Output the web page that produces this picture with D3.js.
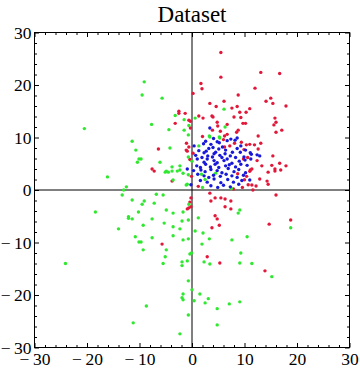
<!DOCTYPE html>
<html lang="en">
<head>
<meta charset="utf-8">
<title>Dataset</title>
<script src="https://d3js.org/d3.v7.min.js"></script>
<style>
  body { margin: 0; background: #fff; }
  text { font-family: "Liberation Serif", "Times New Roman", serif; fill: #000; }
</style>
</head>
<body>
<script>
// chart data: [x, y] pairs
const redPoints = [
  [5.5,26.2],[5.5,21.5],[1.7,20.3],[1.9,19.3],[0.2,18.4],[8.8,18.1],[3.4,16.5],[6.1,16.9],[4.6,15.9],[7.6,15.6],
  [8.6,15.9],[9.1,14.8],[10.3,14.8],[11.0,15.5],[8.0,13.9],[9.3,13.8],[9.7,12.7],[10.2,12.7],[3.8,14.1],[4.0,13.9],
  [1.3,14.1],[2.1,13.7],[4.8,12.9],[4.9,12.2],[6.7,12.5],[3.9,11.4],[5.4,11.2],[8.5,11.0],[8.8,11.4],[6.7,10.6],
  [6.2,10.3],[-2.5,15.0],[-2.5,14.6],[-1.3,14.6],[-0.6,13.3],[-0.3,13.1],[-3.2,12.7],[-0.3,11.8],
  [13.1,22.4],[16.7,22.2],[12.0,19.4],[15.0,17.5],[14.1,16.9],[15.4,16.5],[17.9,16.0],[15.8,13.7],[16.0,12.9],
  [15.6,12.4],[17.1,11.4],[16.0,11.0],[12.6,10.3],
  [13.1,8.9],[11.0,8.7],[15.4,6.5],[12.4,5.6],[16.7,5.1],[15.2,4.7],[17.9,4.6],[13.3,4.6],[15.8,4.0],[15.8,3.6],
  [16.9,3.8],[14.5,3.4],[11.4,4.0],[11.1,3.8],[12.9,2.1],[14.3,1.7],[14.5,1.1],[11.4,0.95],[12.2,0.76],[11.6,0.0],
  [16.0,-0.95],[18.8,-5.7],[14.7,-6.5],[13.9,-15.4],[2.9,-12.7],[5.3,-13.9],
  [-6.4,7.8],[-7.6,4.0],[-7.2,3.6],[-3.8,1.7],[-1.1,7.6],[-0.9,7.4],[-0.6,8.2],[-0.2,-1.5],[-0.4,-2.3],[-0.6,-3.4],
  [-0.2,-3.2],[-0.9,-3.6],[-5.7,-10.3],[3.4,-0.6],[3.6,-2.1],[4.4,-1.5],[5.5,-1.5],[6.3,-1.7],[7.4,-2.1],[6.3,-3.2],
  [7.4,-3.6],[4.4,-4.9],[4.8,-5.5],[3.8,-7.2],[5.2,-6.7],
  [-1.05,8.9],[8.1,8.9],[9.4,9.1],[10.35,8.6],[9.9,7.7],[11.9,8.6],[12.6,7.8],[6.2,8.2],[7.2,8.4],[11.0,3.55],
  [10.0,1.96],[10.7,1.0],[0.2,7.0],[-0.4,5.8],[-0.1,2.6],[1.2,0.7],
  [9.8,5.9],[10.6,6.2],[8.7,3.1],[9.6,0.5],[7.9,0.2],[10.4,2.6],[6.0,9.6],[2.0,10.2]
];

const greenPoints = [
  [-20.5,11.7],
  [-9.1,20.6],[-9.5,18.1],[-5.7,17.5],[6.1,15.4],[0.6,13.7],[6.3,12.0],[3.3,10.3],[5.2,10.1],[-3.2,14.2],
  [-1.5,13.4],[-7.7,12.5],[-4.4,11.5],[-1.5,11.4],[-0.7,10.5],
  [-11.4,9.3],[-10.7,7.6],[-10.1,5.9],[-10.4,5.3],[-16.1,2.5],[-12.5,0.6],[-13.0,0.0],[-13.3,-0.95],[-11.4,-1.9],
  [-18.4,-4.2],[-10.2,-4.2],[-12.1,-5.1],[-12.1,-5.4],[-11.4,-5.5],[-14.0,-7.4],[-10.8,-8.9],[-10.1,-9.9],
  [-24.1,-14.0],[-11.2,-25.3],[11.4,-14.0],[15.2,-16.5],[18.8,-7.2],
  [-9.3,-11.4],[-4.9,-11.4],[-5.1,-12.7],[-5.5,-14.0],[-0.4,-12.2],[-0.1,-12.0],[-0.9,-13.5],[-1.9,-13.7],[-1.9,-14.4],
  [2.3,-13.7],[3.4,-14.1],[9.3,-12.0],[9.1,-13.9],[-0.7,-17.3],[0.0,-19.0],[1.5,-19.8],[-1.7,-19.8],[-1.9,-20.5],
  [-1.7,-20.9],[0.4,-21.1],[3.1,-20.7],[2.5,-21.5],[7.1,-21.7],[9.1,-21.3],[-8.7,-22.1],[4.8,-22.6],[-0.7,-23.8],
  [4.8,-25.7],[-2.3,-27.4],
  [-4.2,8.0],[-9.7,5.9],[-6.1,5.3],[-4.9,3.6],[-5.1,3.4],[-4.5,3.4],[-3.8,3.6],[-2.8,3.6],[-2.3,3.8],[-1.7,3.2],
  [-3.8,4.4],[-2.3,4.6],[-3.6,1.9],[-1.1,0.95],[-0.9,1.1],[-0.7,2.9],[-0.7,6.3],[-9.1,-2.1],[-9.5,-2.7],[-7.2,-2.5],
  [-6.8,-0.8],[-5.5,-0.95],[-0.6,-2.7],[-4.9,-3.8],[-3.6,-4.4],[-1.7,-4.2],[-7.6,-5.5],[-5.3,-6.3],[-3.6,-7.0],
  [-1.9,-5.9],[-0.7,-5.7],[-9.3,-6.7],[-2.3,-7.4],[-7.6,-9.1],[-3.6,-8.7],[-9.7,-9.9],[-1.7,-9.5],[-0.7,-9.3],
  [9.1,-3.8],[8.8,-4.4],[1.2,-5.3],[0.6,-7.8],[2.1,-8.2],[3.3,-9.3],[7.6,-9.5],[10.5,-8.9],[1.9,-10.3],
  [3.4,10.1],[5.3,9.9],[1.3,8.4],[-0.6,12.3],[0.0,5.5],[1.8,3.0],[4.5,3.2],[2.5,2.0],[7.5,0.3],[2.0,0.5]
];

const bluePoints = [
  [3.4,11.8],[2.6,9.3],[4.1,9.8],[4.8,9.2],[8.2,9.5],[8.6,9.9],[0.4,8.4],[2.2,8.8],[3.6,8.7],[5.2,9.0],
  [5.8,8.2],[4.0,8.1],[6.7,9.4],[7.4,9.7],[9.3,8.4],[11.1,7.1],[11.3,6.8],
  [1.3,7.5],[2.7,7.4],[3.2,7.9],[4.5,7.2],[5.1,7.8],[6.4,7.6],[7.7,7.2],[8.6,7.9],[10.2,7.6],
  [0.7,6.6],[1.9,6.2],[2.3,7.1],[3.0,6.5],[3.9,6.3],[4.2,6.9],[5.3,6.6],[5.7,6.2],[6.3,6.9],[7.3,6.5],
  [8.3,6.2],[9.2,7.2],[9.9,6.3],[12.4,6.7],[12.9,6.5],
  [1.0,5.9],[2.3,5.3],[2.9,5.9],[4.2,5.6],[4.8,5.2],[6.1,5.6],[6.7,5.9],[7.6,5.1],[9.0,5.5],[10.1,5.7],[11.2,5.9],
  [0.9,4.6],[1.6,4.3],[2.6,4.9],[3.5,4.4],[4.4,4.9],[5.1,4.3],[6.4,4.6],[7.1,4.8],[8.3,4.4],[9.3,4.9],[10.5,4.7],
  [0.3,3.7],[1.7,3.8],[2.5,3.5],[3.6,3.9],[4.8,3.7],[5.7,3.3],[6.9,4.1],[8.0,3.5],[8.9,3.9],[10.2,3.3],
  [1.1,3.0],[2.3,2.7],[3.2,2.4],[4.1,2.8],[5.4,2.6],[6.5,3.0],[7.6,2.7],[8.6,2.4],[9.8,2.8],
  [1.6,1.8],[2.9,1.5],[4.2,2.1],[5.5,1.4],[6.8,2.0],[7.9,1.5],[9.5,1.8],[11.0,1.9],
  [3.6,0.8],[4.9,0.5],[6.0,0.9],[7.3,0.6],[8.9,1.1],[-0.9,4.0],[-0.2,1.0]
];

const majorTicks = [-30, -20, -10, 0, 10, 20, 30];
const minorTicks = d3.range(-30, 31, 2).filter(v => v % 10 !== 0);
const titleText = "Dataset";

const svgW = 360;
const svgH = 371;

const x = d3.scaleLinear().domain([-30, 30]).range([34.5, 349.5]);
const y = d3.scaleLinear().domain([-30, 30]).range([347.5, 32.5]);

const svg = d3.select("body").append("svg")
  .attr("width", svgW)
  .attr("height", svgH);

// title
svg.append("text")
  .attr("x", 192)
  .attr("y", 22)
  .attr("text-anchor", "middle")
  .attr("font-size", "23px")
  .text(titleText);

const fmt = d => d < 0 ? "\u2212\u2009" + Math.abs(d) : String(d);

// frame ticks, all pointing inward
function tickSet(axisFn, scale, vals, size, labels) {
  return axisFn(scale).tickValues(vals).tickSize(size)
    .tickFormat(labels ? fmt : "");
}

const gBottom = svg.append("g").attr("transform", "translate(0," + y(-30) + ")");
gBottom.call(tickSet(d3.axisBottom, x, minorTicks, -2.5, false));
gBottom.append("g").call(tickSet(d3.axisBottom, x, majorTicks, -4.5, true).tickPadding(5));

const gTop = svg.append("g").attr("transform", "translate(0," + y(30) + ")");
gTop.call(tickSet(d3.axisTop, x, minorTicks, -2.5, false));
gTop.append("g").call(tickSet(d3.axisTop, x, majorTicks, -4.5, false));

const gLeft = svg.append("g").attr("transform", "translate(" + x(-30) + ",0)");
gLeft.call(tickSet(d3.axisLeft, y, minorTicks, -2.5, false));
gLeft.append("g").call(tickSet(d3.axisLeft, y, majorTicks, -4.5, true).tickPadding(3));

const gRight = svg.append("g").attr("transform", "translate(" + x(30) + ",0)");
gRight.call(tickSet(d3.axisRight, y, minorTicks, -2.5, false));
gRight.append("g").call(tickSet(d3.axisRight, y, majorTicks, -4.5, false));

svg.selectAll(".domain").remove();
svg.selectAll(".tick line").attr("stroke", "#000").attr("stroke-width", 1);
svg.selectAll(".tick text")
  .attr("font-family", "Liberation Serif, Times New Roman, serif")
  .attr("font-size", "17.5px")
  .attr("fill", "#000");

// frame
svg.append("rect")
  .attr("x", x(-30)).attr("y", y(30))
  .attr("width", x(30) - x(-30)).attr("height", y(-30) - y(30))
  .attr("fill", "none").attr("stroke", "#000").attr("stroke-width", 1);

// zero axes
svg.append("line")
  .attr("x1", x(-30)).attr("x2", x(30)).attr("y1", y(0)).attr("y2", y(0))
  .attr("stroke", "#000");
svg.append("line")
  .attr("x1", x(0)).attr("x2", x(0)).attr("y1", y(-30)).attr("y2", y(30))
  .attr("stroke", "#000");

// points
const series = [
  { pts: redPoints, color: "#e2183a" },
  { pts: greenPoints, color: "#2fe82f" },
  { pts: bluePoints, color: "#1818d8" }
];
series.forEach(s => {
  svg.append("g").selectAll("circle")
    .data(s.pts)
    .enter().append("circle")
    .attr("cx", d => x(d[0]))
    .attr("cy", d => y(d[1]))
    .attr("r", 1.7)
    .attr("fill", s.color);
});
</script>
</body>
</html>
